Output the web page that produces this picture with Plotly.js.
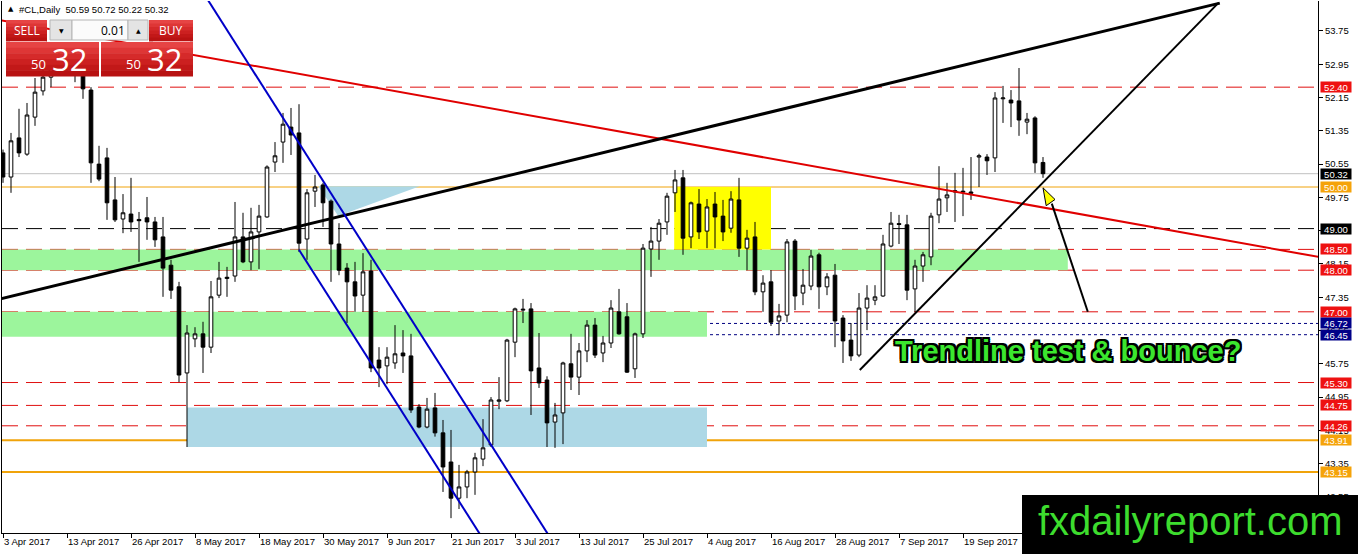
<!DOCTYPE html>
<html>
<head>
<meta charset="utf-8">
<script src="https://cdn.plot.ly/plotly-3.0.1.min.js"></script>
<style>
  body { margin: 0; background: #fff; }
  #chart { width: 1358px; height: 554px; }
</style>
</head>
<body>
<div id="chart"></div>
<script>
// #CL daily, one entry per trading day from 3 Apr 2017 (x = bar number)
const opens = [
  50.82, 50.24, 51.18, 50.79, 51.68, 52.31, 52.64, 52.90, 53.05, 53.10,
  52.90, 52.33, 50.55, 50.70, 49.69, 49.23, 49.35, 49.22, 49.26, 49.16,
  48.80, 48.12, 47.60, 45.53, 46.35, 46.47, 46.15, 47.40, 47.80, 47.86,
  48.80, 48.20, 48.92, 49.28, 50.60, 51.08, 51.44, 51.30, 48.75, 49.90,
  50.05, 49.66, 48.63, 48.05, 47.72, 47.40, 47.98, 45.84, 45.70, 45.77,
  46.01, 45.94, 44.71, 44.23, 44.69, 44.09, 43.39, 42.52, 42.79, 43.15,
  43.46, 43.80, 44.85, 44.86, 46.27, 47.04, 47.07, 45.65, 45.36, 44.35,
  44.57, 45.75, 45.43, 46.06, 46.68, 46.01, 46.25, 47.00, 46.88, 45.63,
  46.47, 48.51, 48.70, 49.16, 49.86, 50.22, 48.80, 49.59, 48.94, 49.59,
  49.30, 49.01, 49.69, 48.53, 48.80, 47.48, 47.72, 46.78, 46.92, 48.70,
  47.45, 47.62, 48.37, 47.60, 47.88, 46.85, 46.32, 45.96, 47.09, 47.28,
  47.38, 48.58, 49.12, 49.09, 47.55, 48.10, 48.32, 49.33, 49.74, 49.88,
  49.90, 49.88, 50.72, 50.72, 50.70, 52.12, 52.09, 52.07, 51.56, 51.66,
  50.59
];
const highs = [
  50.90, 51.30, 51.88, 52.02, 52.62, 52.90, 53.10, 53.30, 53.40, 53.30,
  53.05, 52.40, 50.99, 50.94, 50.24, 49.83, 50.22, 49.40, 49.76, 49.28,
  49.28, 48.25, 47.72, 46.68, 46.63, 46.76, 47.74, 48.20, 48.08, 49.64,
  49.38, 49.50, 49.57, 50.52, 51.08, 51.78, 51.90, 51.99, 49.95, 50.29,
  50.10, 49.70, 49.13, 48.17, 48.20, 48.41, 48.25, 46.15, 46.15, 46.68,
  46.56, 46.47, 44.78, 44.93, 45.05, 44.40, 44.16, 43.32, 43.20, 43.61,
  44.42, 44.95, 45.43, 46.35, 47.10, 47.31, 47.21, 46.49, 45.45, 44.81,
  45.80, 46.47, 46.25, 46.80, 46.85, 46.42, 47.28, 47.55, 47.21, 46.50,
  48.63, 49.04, 49.23, 49.86, 50.41, 50.41, 49.65, 49.95, 49.71, 49.88,
  49.69, 49.90, 50.22, 48.97, 49.16, 47.88, 48.00, 47.19, 48.75, 48.75,
  48.03, 48.49, 48.42, 47.93, 48.15, 46.92, 46.73, 47.45, 47.64, 47.64,
  48.85, 49.40, 49.33, 49.33, 48.25, 48.44, 49.38, 50.50, 50.10, 50.34,
  50.46, 50.72, 50.80, 50.79, 52.28, 52.43, 52.33, 52.86, 51.78, 51.70,
  50.72
];
const lows = [
  50.10, 49.86, 50.72, 50.75, 51.47, 52.20, 52.40, 52.70, 52.80, 52.52,
  52.12, 50.10, 50.14, 49.21, 49.16, 48.89, 48.92, 48.20, 48.73, 48.56,
  47.36, 47.31, 45.31, 43.75, 46.15, 45.53, 46.01, 47.33, 47.36, 47.72,
  48.17, 48.00, 48.03, 49.26, 50.36, 50.58, 50.77, 48.44, 48.25, 49.52,
  49.04, 47.72, 47.88, 46.73, 47.00, 47.00, 45.55, 45.19, 45.26, 45.63,
  45.53, 44.57, 44.20, 44.20, 44.00, 42.67, 42.04, 42.26, 42.52, 42.60,
  43.29, 43.75, 44.66, 44.83, 45.91, 46.73, 44.52, 45.17, 43.75, 43.73,
  43.82, 45.12, 45.00, 45.79, 45.89, 45.79, 46.13, 46.45, 45.53, 45.41,
  46.37, 47.84, 48.25, 48.85, 49.40, 48.37, 48.53, 48.75, 48.53, 48.53,
  48.70, 48.90, 48.32, 48.00, 47.40, 47.00, 46.66, 46.44, 46.75, 47.04,
  47.16, 47.52, 47.07, 47.40, 46.15, 45.77, 45.82, 45.91, 46.56, 47.16,
  47.36, 48.55, 48.63, 47.28, 47.00, 47.72, 48.12, 49.13, 49.40, 49.16,
  49.30, 49.69, 50.00, 50.29, 50.36, 51.54, 51.44, 51.23, 51.27, 50.34,
  50.22
];
const closes = [
  50.24, 51.11, 50.82, 51.73, 52.28, 52.64, 52.90, 53.05, 53.15, 52.90,
  52.36, 50.58, 50.19, 49.62, 49.21, 49.38, 49.16, 49.19, 49.16, 48.73,
  48.05, 47.52, 45.48, 46.49, 46.47, 46.15, 47.36, 47.81, 47.83, 48.80,
  48.20, 48.92, 49.30, 50.48, 50.75, 51.51, 51.25, 48.65, 49.86, 50.00,
  49.62, 48.63, 48.00, 47.72, 47.38, 47.96, 45.65, 45.65, 45.91, 45.99,
  45.94, 44.64, 44.23, 44.66, 44.09, 43.27, 42.52, 42.79, 43.15, 43.49,
  43.73, 44.88, 44.88, 46.32, 47.07, 47.06, 45.58, 45.29, 44.33, 44.52,
  45.77, 45.43, 46.06, 46.68, 45.96, 46.25, 47.09, 46.47, 45.55, 46.47,
  48.53, 48.70, 49.13, 49.78, 50.17, 48.77, 49.62, 48.92, 49.52, 49.28,
  48.92, 49.71, 48.53, 48.77, 47.48, 47.69, 46.75, 46.90, 48.68, 47.38,
  47.64, 48.34, 47.60, 47.84, 46.78, 46.30, 45.94, 47.09, 47.33, 47.36,
  48.63, 49.13, 49.10, 47.52, 48.10, 48.37, 49.30, 49.71, 49.81, 49.91,
  49.88, 49.85, 50.75, 50.63, 52.14, 52.14, 52.02, 51.61, 51.63, 50.58,
  50.32
];

const tickBars = [0, 8, 16, 24, 32, 40, 48, 56, 64, 72, 80, 88, 96, 104, 112, 120];
const tickLabels = ['3 Apr 2017', '13 Apr 2017', '26 Apr 2017', '8 May 2017', '18 May 2017',
  '30 May 2017', '9 Jun 2017', '21 Jun 2017', '3 Jul 2017', '13 Jul 2017', '25 Jul 2017',
  '4 Aug 2017', '16 Aug 2017', '28 Aug 2017', '7 Sep 2017', '19 Sep 2017'];

// horizontal levels
const redLevels = [52.40, 48.50, 48.00, 47.00, 45.30, 44.75, 44.26];
const orangeLevels = [50.00, 43.91, 43.15];
const blackLevels = [49.00];
const blueLevels = [46.72, 46.45];
const lastPrice = 50.32;

// trendlines: [bar0, price0, bar1, price1]
const blackThick = [-0.375, 47.31, 152.1, 54.42];
const blackThin = [107.1, 45.60, 151.9, 54.42];
const redTrend = [-0.375, 54.01, 164.4, 48.32];
const blueUpper = [25.6, 54.50, 68.1, 41.66];
const blueLower = [37.0, 48.49, 59.6, 41.66];
const arrowLine = [135.6, 47.00, 131.1, 49.60];

// zones: [bar0, bar1, priceTop, priceBottom]
const greenZones = [[-1, 133.1, 48.50, 48.00], [-1, 88.0, 47.00, 46.40]];
const blueZone = [23.0, 88.0, 44.70, 43.75];
const yellowZone = [83.9, 96.0, 50.00, 48.50];
const blueTriangle = [[39.4, 50.02], [52.1, 50.02], [41.9, 49.30]];
const arrowHead = [[130.0, 49.98], [130.4, 49.55], [131.5, 49.70]];

const symbolText = '#CL,Daily  50.59 50.72 50.22 50.32';

// pixel -> paper helpers (plot area is x 2..1318, y 1..533)
function fx(px) { return (px - 2) / 1316; }
function fy(py) { return (533 - py) / 532; }

let bars = opens.map((o, i) => i);

let candles = {
  type: 'candlestick',
  x: bars, open: opens, high: highs, low: lows, close: closes,
  whiskerwidth: 0,
  increasing: { line: { color: '#000', width: 1 }, fillcolor: '#fff' },
  decreasing: { line: { color: '#000', width: 1 }, fillcolor: '#000' },
  showlegend: false,
  hoverinfo: 'skip'
};

let shapes = [];

function hline(y, color, width, dash) {
  shapes.push({ type: 'line', layer: 'below', xref: 'paper', x0: 0, x1: 1, yref: 'y', y0: y, y1: y,
    line: { color: color, width: width, dash: dash } });
}
function zone(z, color) {
  shapes.push({ type: 'rect', layer: 'below', xref: 'x', yref: 'y', x0: z[0], x1: z[1], y0: z[2], y1: z[3],
    fillcolor: color, line: { width: 0 } });
}
function seg(s, color, width, layer) {
  shapes.push({ type: 'line', layer: layer || 'above', xref: 'x', yref: 'y', x0: s[0], y0: s[1], x1: s[2], y1: s[3],
    line: { color: color, width: width } });
}
function poly(pts, fill, lineColor, layer) {
  let d = pts.map((p, i) => (i ? 'L' : 'M') + p[0] + ',' + p[1]).join(' ') + ' Z';
  shapes.push({ type: 'path', layer: layer, xref: 'x', yref: 'y', path: d, fillcolor: fill,
    line: { color: lineColor || fill, width: lineColor ? 1 : 0 } });
}

zone(greenZones[0], '#9cf59c');
zone(greenZones[1], '#9cf59c');
zone(blueZone, '#add8e6');
zone(yellowZone, '#ffff00');
poly(blueTriangle, '#add8e6', null, 'below');

redLevels.forEach(v => hline(v, '#e01010', 1, '16px,8px'));
blackLevels.forEach(v => hline(v, '#000', 1, '16px,8px'));
blueLevels.forEach(v => hline(v, '#000080', 1, '3px,3px'));
hline(lastPrice, '#c0c0c0', 1, 'solid');
hline(orangeLevels[0], '#f0a30a', 1, 'solid');
hline(orangeLevels[1], '#f0a30a', 2, 'solid');
hline(orangeLevels[2], '#f0a30a', 2, 'solid');

seg(redTrend, '#e00000', 2);
seg(blackThick, '#000', 3);
seg(blackThin, '#000', 2);
seg(blueUpper, '#0000c8', 2);
seg(blueLower, '#0000c8', 2);
seg(arrowLine, '#000', 2);
poly(arrowHead, '#ffff00', '#000', 'above');

// trade panel (top left)
function pbox(x0, y0, x1, y1, fill, line) {
  shapes.push({ type: 'rect', layer: 'above', xref: 'paper', yref: 'paper',
    x0: fx(x0), x1: fx(x1), y0: fy(y0), y1: fy(y1), fillcolor: fill,
    line: { color: line || fill, width: line ? 1 : 0 } });
}
function redBox(x0, y0, x1, y1) {
  let reds = ['#e64444', '#de3636', '#d52a2a', '#cc2020', '#c21818', '#b81212'];
  let h = (y1 - y0) / reds.length;
  reds.forEach((c, i) => pbox(x0, y0 + i * h, x1, y0 + (i + 1) * h + 0.5, c));
}
redBox(6, 20, 47, 41);
pbox(50, 20, 72, 40, '#e4e4e4', '#b5b5b5');
pbox(72, 20, 128, 40, '#fbfbfb', '#b5b5b5');
pbox(128, 20, 148, 40, '#e4e4e4', '#b5b5b5');
redBox(149, 20, 193, 41);
redBox(6, 42, 99, 76);
redBox(101, 42, 193, 76);
pbox(10, 41, 46, 42, '#f3b0b0');
pbox(153, 41, 190, 42, '#f3b0b0');

// logo box (bottom right)
pbox(1022, 495, 1362, 558, '#000');

let annotations = [];
function ptext(text, x, y, size, color, xanchor, family) {
  annotations.push({ xref: 'paper', yref: 'paper', x: fx(x), y: fy(y), text: text, showarrow: false,
    xanchor: xanchor || 'center', yanchor: 'middle',
    font: { family: family || 'Open Sans', size: size, color: color } });
}

ptext('\u25B2', 6, 9, 7, '#000', 'left', 'DejaVu Sans');
ptext(symbolText, 17, 10, 9.5, '#000', 'left', 'Liberation Sans');
ptext('SELL', 27, 30, 12, '#fff');
ptext('BUY', 171, 30, 12, '#fff');
ptext('0.01', 127, 30, 12, '#000', 'right');
ptext('\u25BC', 61, 30, 6, '#000', 'center', 'DejaVu Sans');
ptext('\u25B2', 138, 30, 6, '#000', 'center', 'DejaVu Sans');
ptext('50', 48, 64, 13, '#fff', 'right');
ptext('32', 50, 59, 31, '#fff', 'left');
ptext('50', 143, 64, 13, '#fff', 'right');
ptext('32', 145, 59, 31, '#fff', 'left');
ptext('fxdailyreport.com', 1190, 521, 40, '#3ddc2e', 'center', 'Liberation Sans');

// price tags on the right axis
function tag(v, bg) {
  annotations.push({ xref: 'paper', yref: 'y', x: fx(1320), y: v, text: v.toFixed(2), showarrow: false,
    xanchor: 'left', yanchor: 'middle', bgcolor: bg, borderpad: 0, width: 30, height: 10,
    font: { family: 'Liberation Sans', size: 9.5, color: '#fff' } });
}
redLevels.forEach(v => tag(v, '#ee1111'));
orangeLevels.forEach(v => tag(v, '#f5a30a'));
blackLevels.forEach(v => tag(v, '#000'));
blueLevels.forEach(v => tag(v, '#000088'));
tag(lastPrice, '#000');

annotations.push({ xref: 'x', yref: 'y', x: 133.1, y: 46.06, text: 'Trendline test &amp; bounce?',
  showarrow: false, xanchor: 'center', yanchor: 'middle',
  font: { family: 'Liberation Sans', size: 29, weight: 'bold', color: '#3be62e',
    shadow: '2px 2px 0 #000, -2px -2px 0 #000, 2px -2px 0 #000, -2px 2px 0 #000, 0 2px 0 #000, 2px 0 0 #000, 0 -2px 0 #000, -2px 0 0 #000' } });

let layout = {
  width: 1358, height: 554,
  margin: { l: 2, r: 40, t: 1, b: 21, pad: 0 },
  paper_bgcolor: '#fff', plot_bgcolor: '#fff',
  showlegend: false, hovermode: false, dragmode: false,
  boxgap: 0.35,
  font: { family: 'Liberation Sans', size: 9.5, color: '#000' },
  xaxis: {
    range: [-0.125, 164.375], rangeslider: { visible: false },
    tickvals: tickBars, ticktext: tickLabels, ticklabelposition: 'outside right',
    ticks: 'outside', ticklen: 4, tickcolor: '#000',
    showgrid: false, zeroline: false, showline: true, linecolor: '#000', linewidth: 1
  },
  yaxis: {
    side: 'right', range: [41.683, 54.471],
    tick0: 42.55, dtick: 0.8, tickformat: '.2f',
    ticks: 'outside', ticklen: 4, tickcolor: '#000',
    showgrid: false, zeroline: false, showline: true, linecolor: '#000', linewidth: 1, mirror: true
  },
  shapes: shapes,
  annotations: annotations
};

Plotly.newPlot('chart', [candles], layout, { displayModeBar: false, staticPlot: true });
</script>
</body>
</html>
